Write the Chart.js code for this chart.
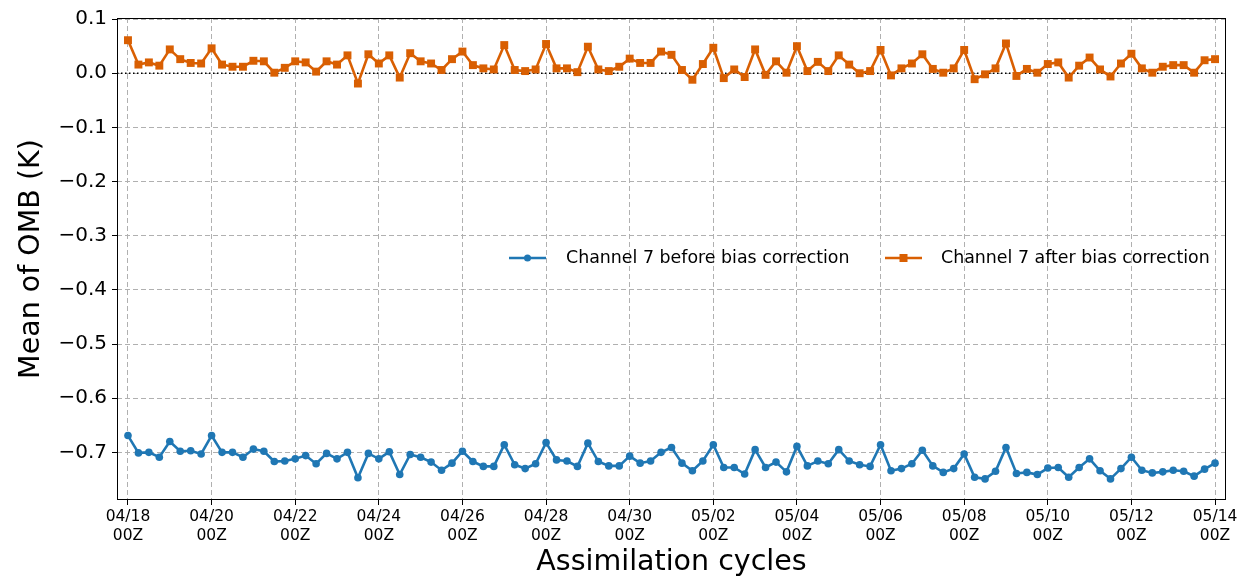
<!DOCTYPE html>
<html>
<head>
<meta charset="utf-8">
<script src="https://cdn.jsdelivr.net/npm/chart.js@4"></script>
<style>
  html, body { margin: 0; padding: 0; background: #fff; }
  #wrap { width: 1242px; height: 580px; }
</style>
</head>
<body>
<div id="wrap"><canvas id="c" width="1242" height="580"></canvas></div>
<script>
// ---- data (6-hourly assimilation cycles, 04/18 00Z .. 05/14 00Z) ----
const tickDates = ['04/18','04/20','04/22','04/24','04/26','04/28','04/30','05/02','05/04','05/06','05/08','05/10','05/12','05/14'];
const tickHour = '00Z';
const cyclesPerTick = 8;
const yTickValues = [0.1, 0.0, -0.1, -0.2, -0.3, -0.4, -0.5, -0.6, -0.7];

const seriesNames = ['Channel 7 before bias correction', 'Channel 7 after bias correction'];

const beforeBC = [
  -0.669,-0.701,-0.700,-0.709,-0.680,-0.698,-0.697,-0.703,-0.669,-0.700,
  -0.700,-0.709,-0.694,-0.698,-0.717,-0.716,-0.712,-0.706,-0.721,-0.702,
  -0.712,-0.700,-0.747,-0.702,-0.712,-0.699,-0.741,-0.704,-0.709,-0.718,
  -0.733,-0.720,-0.698,-0.717,-0.726,-0.726,-0.686,-0.723,-0.730,-0.721,
  -0.682,-0.714,-0.716,-0.726,-0.683,-0.717,-0.725,-0.725,-0.707,-0.720,
  -0.716,-0.700,-0.691,-0.720,-0.734,-0.716,-0.686,-0.728,-0.728,-0.740,
  -0.695,-0.728,-0.718,-0.736,-0.689,-0.725,-0.716,-0.721,-0.695,-0.716,
  -0.723,-0.726,-0.686,-0.734,-0.730,-0.721,-0.696,-0.725,-0.737,-0.730,
  -0.703,-0.746,-0.749,-0.735,-0.691,-0.739,-0.737,-0.741,-0.729,-0.728,
  -0.746,-0.728,-0.712,-0.734,-0.749,-0.730,-0.709,-0.733,-0.738,-0.736,
  -0.733,-0.735,-0.744,-0.731,-0.720
];

const afterBC = [
  0.061,0.016,0.020,0.014,0.044,0.026,0.019,0.018,0.046,0.016,
  0.012,0.012,0.023,0.022,0.001,0.010,0.022,0.020,0.003,0.022,
  0.016,0.033,-0.019,0.035,0.018,0.033,-0.008,0.037,0.022,0.018,
  0.006,0.026,0.040,0.015,0.009,0.007,0.052,0.006,0.004,0.007,
  0.054,0.009,0.009,0.002,0.049,0.007,0.004,0.012,0.027,0.019,
  0.019,0.040,0.034,0.006,-0.012,0.017,0.047,-0.009,0.007,-0.007,
  0.044,-0.003,0.022,0.001,0.050,0.004,0.021,0.004,0.033,0.016,
  0.000,0.004,0.043,-0.004,0.009,0.018,0.035,0.008,0.001,0.009,
  0.043,-0.011,-0.002,0.009,0.055,-0.005,0.008,0.001,0.017,0.020,
  -0.008,0.014,0.029,0.007,-0.006,0.018,0.036,0.009,0.001,0.012,
  0.015,0.015,0.001,0.024,0.026
];

// ---- styling ----
const BLUE = '#1f77b4';
const ORANGE = '#d95f02';
const FONT = "'DejaVu Sans', sans-serif";
const X_MIN = -1.05, X_MAX = (beforeBC.length - 1) + 1.05;

const toPts = arr => arr.map((v, i) => ({x: i, y: v}));

const framePlugin = {
  id: 'frame',
  afterDraw(chart) {
    const {ctx, chartArea: a} = chart;
    ctx.save();
    ctx.strokeStyle = '#000';
    ctx.lineWidth = 1;
    ctx.setLineDash([]);
    ctx.strokeRect(a.left + 0.5, a.top + 0.5, a.right - a.left - 1, a.bottom - a.top - 1);
    ctx.restore();
  }
};

const legendPlugin = {
  id: 'mplLegend',
  afterDraw(chart) {
    const {ctx} = chart;
    const y = 258;
    const items = [
      {x0: 509, x1: 546, text: seriesNames[0], color: BLUE, shape: 'circle', tx: 566},
      {x0: 885, x1: 922, text: seriesNames[1], color: ORANGE, shape: 'square', tx: 941}
    ];
    ctx.save();
    items.forEach(it => {
      ctx.strokeStyle = it.color;
      ctx.lineWidth = 2.5;
      ctx.setLineDash([]);
      ctx.beginPath();
      ctx.moveTo(it.x0, y);
      ctx.lineTo(it.x1, y);
      ctx.stroke();
      const mx = (it.x0 + it.x1) / 2;
      ctx.fillStyle = it.color;
      if (it.shape === 'circle') {
        ctx.beginPath();
        ctx.arc(mx, y, 3.5, 0, Math.PI * 2);
        ctx.fill();
      } else {
        ctx.fillRect(mx - 4, y - 4, 8, 8);
      }
      ctx.fillStyle = '#000';
      ctx.font = "17.4px " + FONT;
      ctx.textBaseline = 'middle';
      ctx.textAlign = 'left';
      ctx.fillText(it.text, it.tx, y);
    });
    ctx.restore();
  }
};

new Chart(document.getElementById('c'), {
  type: 'line',
  data: {
    datasets: [
      {
        label: seriesNames[0],
        data: toPts(beforeBC),
        borderColor: BLUE,
        backgroundColor: BLUE,
        borderWidth: 2.6,
        pointStyle: 'circle',
        pointRadius: 3.8,
        pointBorderWidth: 0,
        pointBackgroundColor: BLUE,
        tension: 0,
        order: 1
      },
      {
        label: seriesNames[1],
        data: toPts(afterBC),
        borderColor: ORANGE,
        backgroundColor: ORANGE,
        borderWidth: 2.6,
        pointStyle: 'rect',
        pointRadius: 5.6,
        pointBorderWidth: 0,
        pointBackgroundColor: ORANGE,
        tension: 0,
        order: 2
      },
      {
        label: 'zero',
        data: [{x: X_MIN, y: 0}, {x: X_MAX, y: 0}],
        borderColor: '#000',
        borderWidth: 1.5,
        borderDash: [1.5, 2.5],
        pointRadius: 0,
        tension: 0,
        order: 3
      }
    ]
  },
  options: {
    responsive: false,
    animation: false,
    devicePixelRatio: 1,
    layout: { padding: {left: 0, right: 16, top: 18, bottom: 0} },
    plugins: {
      legend: { display: false },
      tooltip: { enabled: false }
    },
    scales: {
      x: {
        type: 'linear',
        min: X_MIN,
        max: X_MAX,
        afterFit(scale) { scale.height = 80; },
        afterBuildTicks(scale) {
          scale.ticks = tickDates.map((d, k) => ({value: k * cyclesPerTick}));
        },
        ticks: {
          autoSkip: false,
          maxRotation: 0,
          padding: 2.5,
          color: '#000',
          font: {family: FONT, size: 15.5, lineHeight: 1.23},
          callback(value) {
            const k = Math.round(value / cyclesPerTick);
            return [tickDates[k], tickHour];
          }
        },
        grid: {
          color: '#b0b0b0',
          lineWidth: 1,
          drawTicks: true,
          tickLength: 5,
          tickColor: '#000',
          tickWidth: 1,
          tickBorderDash: []
        },
        border: { display: false, dash: [5, 3] },
        title: {
          display: true,
          text: 'Assimilation cycles',
          color: '#000',
          font: {family: FONT, size: 28.5, lineHeight: 1.2},
          padding: {top: 0, bottom: 0}
        }
      },
      y: {
        type: 'linear',
        min: -0.788,
        max: 0.102,
        afterFit(scale) { scale.width = 117; },
        afterBuildTicks(scale) {
          scale.ticks = yTickValues.map(v => ({value: v}));
        },
        ticks: {
          padding: 5,
          color: '#000',
          font: {family: FONT, size: 20},
          callback(value) {
            const s = Math.abs(value) < 1e-9 ? '0.0' : value.toFixed(1);
            return s.replace('-', '\u2212');
          }
        },
        grid: {
          color: '#b0b0b0',
          lineWidth: 1,
          drawTicks: true,
          tickLength: 5,
          tickColor: '#000',
          tickWidth: 1,
          tickBorderDash: []
        },
        border: { display: false, dash: [5, 3] },
        title: {
          display: true,
          text: 'Mean of OMB (K)',
          color: '#000',
          font: {family: FONT, size: 28.5, lineHeight: 1.2},
          padding: {top: 14, bottom: 0}
        }
      }
    }
  },
  plugins: [framePlugin, legendPlugin]
});
</script>
</body>
</html>
